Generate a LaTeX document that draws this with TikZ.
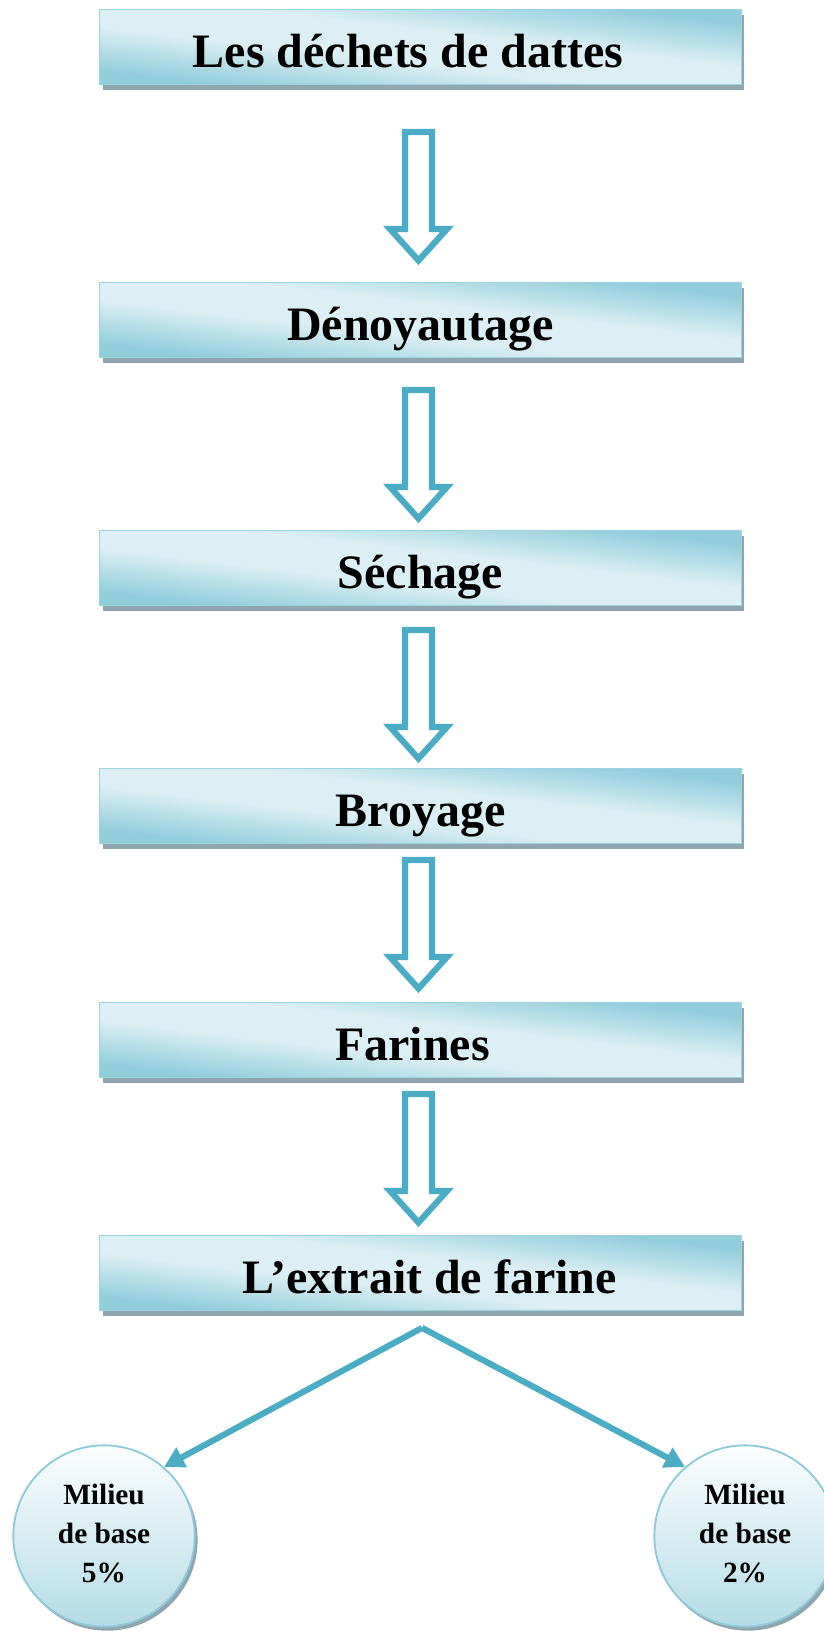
\documentclass[tikz,border=0pt]{standalone}
\usepackage{fontspec}
\setmainfont{Liberation Serif}
\usetikzlibrary{arrows.meta,shadows,calc}

\definecolor{boxdark}{HTML}{92CDDC}
\definecolor{boxlight}{HTML}{DCEFF4}
\definecolor{boxline}{HTML}{9DD3E0}
\definecolor{shadowc}{HTML}{8FA6B0}
\definecolor{arrowc}{HTML}{4BACC6}
\definecolor{circtop}{HTML}{FCFEFE}
\definecolor{circbot}{HTML}{B5DCE7}
\definecolor{circline}{HTML}{8ECADA}

% narrow light band between two dark sides, used on a large square
\pgfdeclareverticalshading{stepshade}{100bp}{%
  color(0bp)=(boxdark); color(45.6bp)=(boxdark); color(48.8bp)=(boxlight);
  color(51.2bp)=(boxlight); color(54.4bp)=(boxdark); color(100bp)=(boxdark)}

\tikzset{
  stepbox/.style={draw=boxline, line width=0.8pt, fill=boxlight,
    minimum width=481pt, minimum height=56pt, inner sep=0pt,
    text height=31pt, text depth=0pt,
    path picture={
      \shade[shading=stepshade, shading angle=-6.7]
        ($(path picture bounding box.center)+(-350,-350)$) rectangle
        ($(path picture bounding box.center)+(350,350)$);
    },
    drop shadow={shadow xshift=2.2pt, shadow yshift=-4.2pt, fill=shadowc, opacity=1},
    font=\bfseries\fontsize{36}{40}\selectfont},
  mediumnode/.style={circle, draw=circline, line width=1.4pt,
    minimum size=136pt, inner sep=0pt, align=center,
    top color=circtop, bottom color=circbot,
    drop shadow={shadow xshift=2.2pt, shadow yshift=-3pt, fill=shadowc, opacity=1},
    font=\bfseries\fontsize{22}{29}\selectfont},
  branch/.style={draw=arrowc, line width=4.6pt,
    -{Triangle[length=15pt,width=16pt]}},
  pics/hollowdown/.style={code={
    \draw[arrowc, line width=4.6pt, fill=white, line join=miter, miter limit=4]
      (-13.5,3) -- (13.5,3) -- (13.5,100) -- (28.5,100) -- (0,131.5)
      -- (-28.5,100) -- (-13.5,100) -- cycle;
  }},
}

\begin{document}
\begin{tikzpicture}[x=0.75pt,y=-0.75pt]
\useasboundingbox (0,0) rectangle (824,1631);

% process steps
\node[stepbox] (b1) at (420.5,47)   {\hspace*{-18.75pt}Les déchets de dattes};
\node[stepbox] (b2) at (420.5,320)  {Dénoyautage};
\node[stepbox] (b3) at (420.5,568)  {Séchage};
\node[stepbox] (b4) at (420.5,806)  {Broyage};
\node[stepbox] (b5) at (420.5,1040) {\hspace*{-12pt}Farines};
\node[stepbox] (b6) at (420.5,1273) {\hspace*{14pt}L’extrait de farine};

% hollow block arrows between the steps
\pic at (418.5,129)  {hollowdown};
\pic at (418.5,387)  {hollowdown};
\pic at (418.5,627)  {hollowdown};
\pic at (418.5,857)  {hollowdown};
\pic at (418.5,1091) {hollowdown};

% the two culture media
\node[mediumnode] (c1) at (104,1536) {Milieu\\de base\\5\%\rule[-4pt]{0pt}{1pt}};
\node[mediumnode] (c2) at (745,1536) {Milieu\\de base\\2\%\rule[-4pt]{0pt}{1pt}};

% split towards the media
\coordinate (apex) at ($(b6.south)+(1.5,17)$);
\draw[branch] (apex) -- (c1.49);
\draw[branch] (apex) -- (c2.131);
\end{tikzpicture}
\end{document}
